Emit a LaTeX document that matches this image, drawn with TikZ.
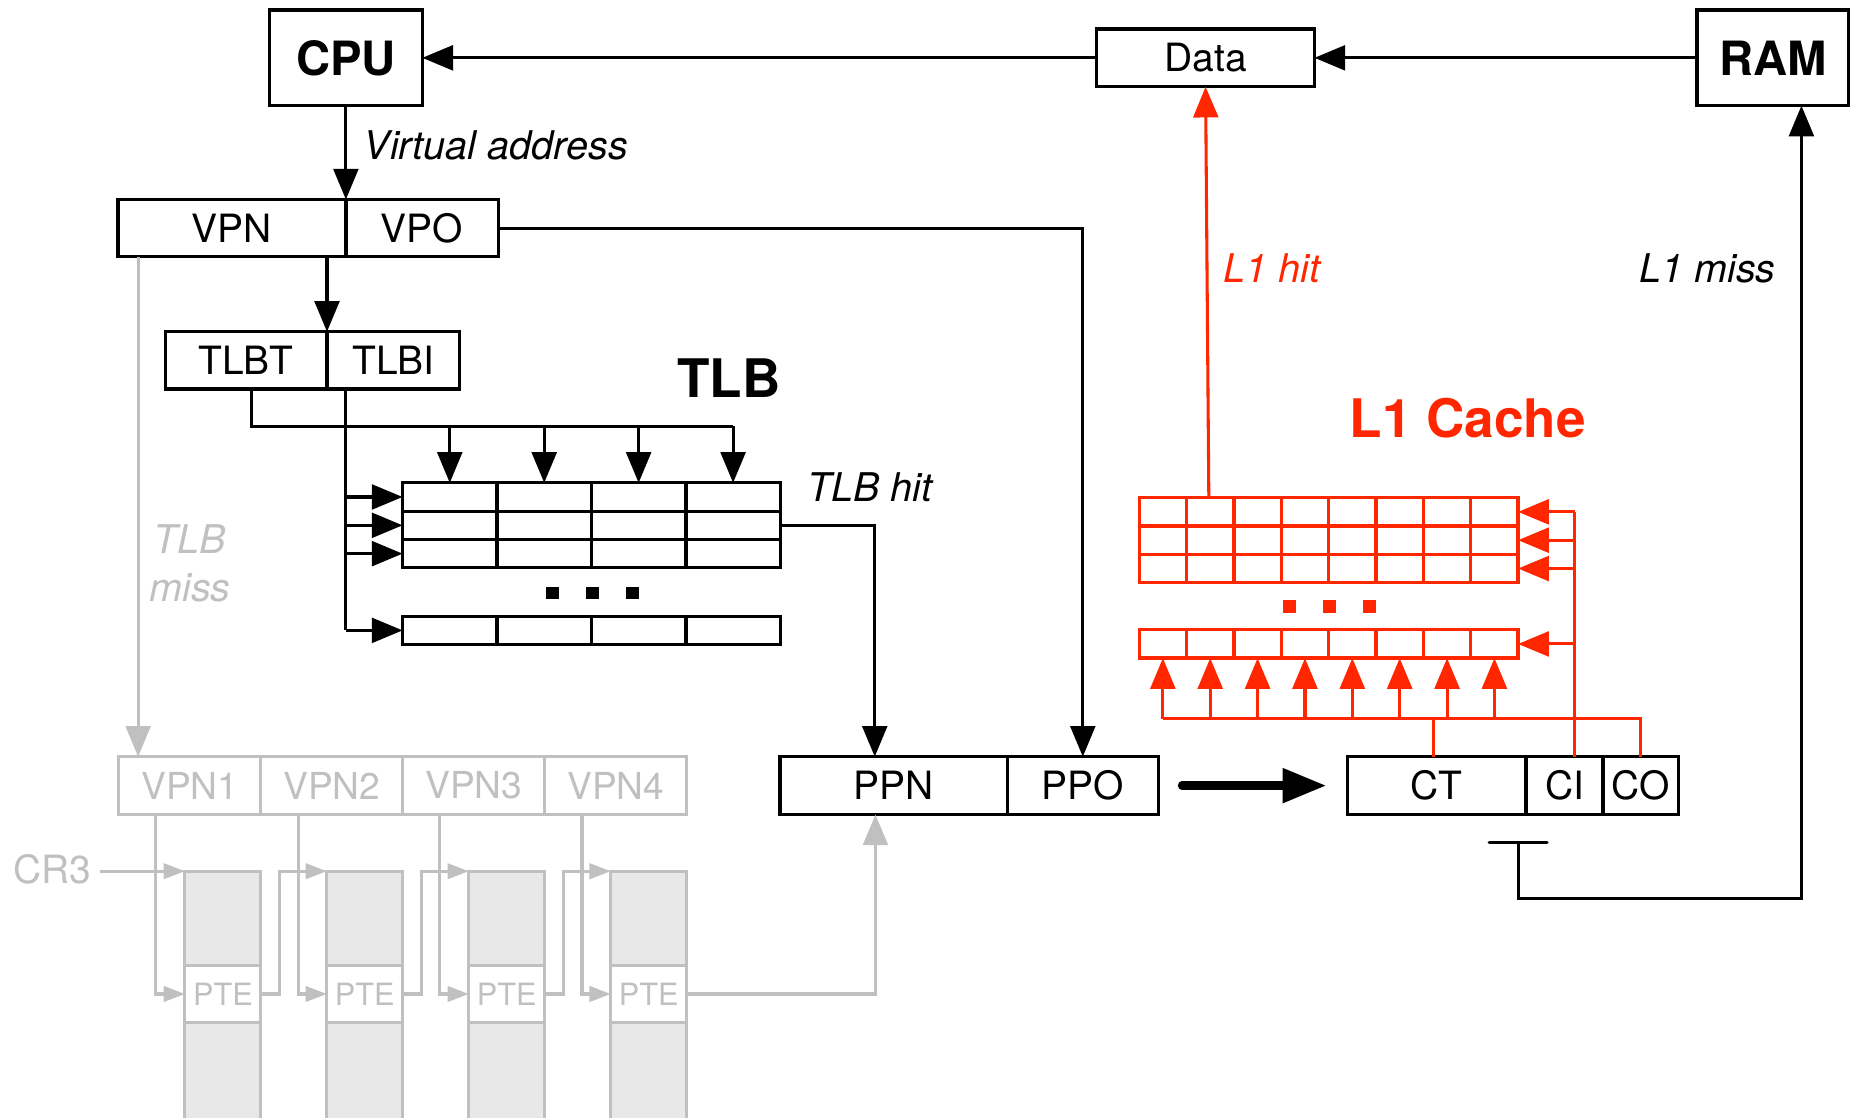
\documentclass[tikz,border=0pt]{standalone}
\usepackage{fontspec}
\setmainfont{TeX Gyre Heros}
\usetikzlibrary{arrows.meta,calc}
\definecolor{l1red}{RGB}{255,38,0}
\definecolor{ghost}{RGB}{192,192,192}
\definecolor{ptfill}{RGB}{232,232,232}
\newcommand\dgNormal{\fontsize{33}{40}\selectfont}
\newcommand\dgItal{\fontsize{33.5}{40}\selectfont\itshape}
\newcommand\dgBold{\fontsize{40}{48}\selectfont\bfseries}
\newcommand\dgBig{\fontsize{45}{54}\selectfont\bfseries}
\newcommand\dgGray{\fontsize{31.5}{38}\selectfont}
\newcommand\dgSmall{\fontsize{26}{31}\selectfont}
\tikzset{
  box/.style={draw, line width=2.8pt, inner sep=0pt, outer sep=0pt, font=\dgNormal, minimum height=48.5pt},
  gbox/.style={box, draw=ghost, text=ghost, line width=2.6pt, font=\dgGray},
  rbox/.style={draw=l1red, line width=2.8pt, inner sep=0pt, outer sep=0pt},
  conn/.style={line width=2.6pt},
  rconn/.style={conn, draw=l1red},
  arr/.style={conn, -{Triangle[length=26pt,width=21pt]}},
  rarr/.style={arr, color=l1red},
  garr/.style={arr, color=ghost},
  gsmall/.style={conn, color=ghost, -{Triangle[length=18pt,width=13pt]}},
  lbl/.style={font=\dgItal, inner sep=0pt, anchor=base west},
  grid/.style={line width=2.8pt},
  rgrid/.style={line width=2.8pt, draw=l1red},
  ptcol/.style={draw=ghost, fill=ptfill, line width=2.6pt, minimum width=64.4pt, minimum height=220pt, anchor=north west, inner sep=0pt, outer sep=0pt},
  pte/.style={gbox, fill=white, minimum width=64.4pt, minimum height=48pt, font=\dgSmall}
}
\begin{document}
\begin{tikzpicture}[x=1pt,y=-1pt]
\useasboundingbox (0,0) rectangle (1568,947);
\clip (0,0) rectangle (1568,947);

% ---------- gray page-walk part (drawn first) ----------
\node[gbox, minimum width=120.25pt, minimum height=49pt] (vpn1) at (160.875,665.5) {VPN1};
\node[gbox, minimum width=120.25pt, minimum height=49pt] (vpn2) at (281.125,665.5) {VPN2};
\node[gbox, minimum width=120.25pt, minimum height=49pt] (vpn3) at (401.375,665.5) {VPN3};
\node[gbox, minimum width=120.25pt, minimum height=49pt] (vpn4) at (521.625,665.5) {VPN4};

\node[ptcol] (pt1) at (156.6,738) {};
\node[ptcol] (pt2) at (276.85,738) {};
\node[ptcol] (pt3) at (397.1,738) {};
\node[ptcol] (pt4) at (517.35,738) {};
\node[pte] (pte1) at (188.8,842) {PTE};
\node[pte] (pte2) at (309.05,842) {PTE};
\node[pte] (pte3) at (429.3,842) {PTE};
\node[pte] (pte4) at (549.55,842) {PTE};

\node[text=ghost, font=\dgNormal, inner sep=0pt] (cr3) at (44.5,736) {CR3};
\draw[gsmall] (cr3.east |- pt1.north west) ++(7,0) -- (pt1.north west);

\draw[gsmall] ([xshift=-28.9pt]vpn1.south) |- (pte1.west);
\draw[gsmall] ([xshift=-28.6pt]vpn2.south) |- (pte2.west);
\draw[gsmall] ([xshift=-28.9pt]vpn3.south) |- (pte3.west);
\draw[gsmall] ([xshift=-28.6pt]vpn4.south) |- (pte4.west);
\draw[gsmall] (pte1.east) -- ++(16,0) |- (pt2.north west);
\draw[gsmall] (pte2.east) -- ++(16,0) |- (pt3.north west);
\draw[gsmall] (pte3.east) -- ++(16,0) |- (pt4.north west);

\node[text=ghost, font=\dgItal, inner sep=0pt, anchor=base] (tlbmissa) at (161,469) {TLB};
\node[text=ghost, font=\dgItal, inner sep=0pt, anchor=base] (tlbmissb) at (161,509.7) {miss};

% ---------- top row ----------
\node[box, minimum width=129.5pt, minimum height=81pt, font=\dgBold] (cpu) at (293,49) {CPU};
\node[box, minimum width=184.5pt, minimum height=49pt] (data) at (1021.25,49) {Data};
\node[box, minimum width=128.5pt, minimum height=81pt, font=\dgBold] (ram) at (1501.75,49) {RAM};
\draw[arr] (data.west) -- (data.west -| cpu.east);
\draw[arr] (ram.west) -- (ram.west -| data.east);

% ---------- virtual address ----------
\node[box, minimum width=193pt] (vpn) at (196.5,193.25) {VPN};
\node[box, minimum width=129pt] (vpo) at (357.5,193.25) {VPO};
\draw[arr] (cpu.south) -- (vpo.north west);
\node[lbl] (va) at (308,135) {Virtual address};

\draw[garr] ([xshift=17pt]vpn.south west) -- ([xshift=17pt]vpn.south west |- vpn1.north);

\node[box, minimum width=137pt] (tlbt) at (208.5,305.25) {TLBT};
\node[box, minimum width=112.5pt] (tlbi) at (333.25,305.25) {TLBI};
\draw[arr] ([xshift=-16pt]vpn.south east) -- (tlbt.north east);

% ---------- TLB ----------
\node[box, minimum width=320pt, minimum height=72pt] (tlbset) at (501,445) {};
\foreach \x in {421,501,581} \draw[grid] (\x,409) -- (\x,481);
\foreach \y in {433,457} \draw[grid] (341,\y) -- (661,\y);
\node[box, minimum width=320pt, minimum height=24pt] (tlblast) at (501,534) {};
\foreach \x in {421,501,581} \draw[grid] (\x,522) -- (\x,546);
\foreach \x in {468,502,535.5} \fill (\x-5.5,497) rectangle (\x+5.5,507);
\node[font=\dgBig, anchor=base west, inner sep=0pt] (tlblbl) at (573.5,337) {TLB};

\coordinate (tbus) at (621,361);
\draw[conn] ([xshift=4.5pt]tlbt.south) |- (tbus);
\foreach \x in {381,461,541,621} \draw[arr] (\x,361) -- (\x,409);
\coordinate (ibus) at (292.75,534);
\draw[conn] ([xshift=-40.5pt]tlbi.south) -- (ibus);
\foreach \y in {421,445,469,534} \draw[arr] (292.75,\y) -- (341,\y);
\node[lbl] (tlbhit) at (683.5,425) {TLB hit};

% ---------- physical address ----------
\node[box, minimum width=192.5pt, minimum height=49pt] (ppn) at (757,665.5) {PPN};
\node[box, minimum width=128pt, minimum height=49pt] (ppo) at (917.25,665.5) {PPO};
\draw[arr] (tlbset.east) -| ([xshift=-16pt]ppn.north);
\draw[arr] (vpo.east) -| (ppo.north);
\draw[garr] (pte4.east) -| ([xshift=-15.4pt]ppn.south);

\node[box, minimum width=151.2pt, minimum height=49pt] (ct) at (1217.1,665.5) {CT};
\node[box, minimum width=65.3pt, minimum height=49pt] (ci) at (1325.35,665.5) {CI};
\node[box, minimum width=64pt, minimum height=49pt] (co) at (1390,665.5) {CO};
\draw[line width=7pt, line cap=round, -{Triangle[length=37pt,width=28pt]}] ([xshift=20pt]ppo.east) -- ([xshift=-18pt]ct.west);

% ---------- L1 cache ----------
\node[rbox, minimum width=321pt, minimum height=72pt] (cacheset) at (1125.5,457.6) {};
\foreach \k in {1,...,7} \draw[rgrid] ({965+40.125*\k},421.6) -- ({965+40.125*\k},493.6);
\foreach \y in {445.6,469.6} \draw[rgrid] (965,\y) -- (1286,\y);
\node[rbox, minimum width=321pt, minimum height=24pt] (cachelast) at (1125.5,545.5) {};
\foreach \k in {1,...,7} \draw[rgrid] ({965+40.125*\k},533.5) -- ({965+40.125*\k},557.5);
\foreach \x in {1092.5,1126.5,1160.5} \fill[l1red] (\x-5.5,508) rectangle (\x+5.5,519);
\node[font=\dgBig, text=l1red, anchor=base west, inner sep=0pt] (l1lbl) at (1143,371) {L1 Cache};

\draw[rarr] ([xshift=-101.5pt]cacheset.north) -- (data.south);
\node[lbl, text=l1red] (l1hit) at (1036.5,239.5) {L1 hit};

\coordinate (cibus) at (1334,433.6);
\draw[rconn] ([xshift=8.65pt]ci.north) -- (cibus);
\foreach \y in {433.6,457.6,481.6,545.5} \draw[rarr] (1334,\y) -- (1286,\y);

\coordinate (cobus) at (985.06,609);
\draw[rconn] (co.north) |- (cobus);
\draw[rconn] ([xshift=-3pt]ct.north) -- ([xshift=-3pt]ct.north |- cobus);
\foreach \k in {0,...,7} \draw[rarr] ({985.06+40.125*\k},609) -- ({985.06+40.125*\k},557.5);

% ---------- L1 miss ----------
\coordinate (tbar) at (1286,714);
\draw[conn, line cap=round] ([xshift=-24.5pt]tbar) -- ([xshift=24.5pt]tbar);
\coordinate (missbot) at (1526,761.5);
\draw[arr] (tbar) |- (missbot) -- (missbot |- ram.south);
\node[lbl] (l1miss) at (1388.5,239.5) {L1 miss};
\end{tikzpicture}
\end{document}
